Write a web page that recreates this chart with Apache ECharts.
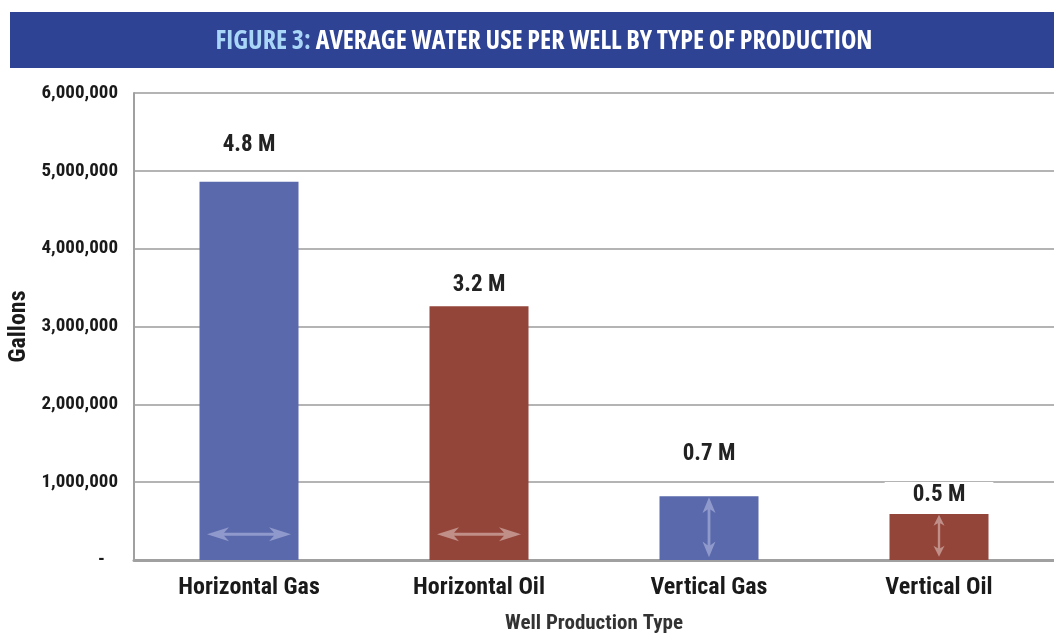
<!DOCTYPE html>
<html>
<head>
<meta charset="utf-8">
<script src="https://cdn.jsdelivr.net/npm/echarts@6/dist/echarts.min.js"></script>
<style>
  body { margin: 0; background: #fff; }
  #chart { width: 1054px; height: 635px; }
</style>
</head>
<body>
<div id="chart"></div>
<script>
// data
const categories = ['Horizontal Gas', 'Horizontal Oil', 'Vertical Gas', 'Vertical Oil'];
const gallons = [4860000, 3260000, 820000, 590000];
const valueLabels = ['4.8 M', '3.2 M', '0.7 M', '0.5 M'];
const yTicks = [0, 1000000, 2000000, 3000000, 4000000, 5000000, 6000000];
// arrows drawn inside the bars (value where the arrow sits)
const arrowValues = [330000, 330000, 420000, 310000];
const arrowVertical = [false, false, true, true];

const FONT = "'Roboto Condensed', 'Open Sans', sans-serif";
const blue = '#5a69ab', red = '#94453a';
const barColors = [blue, red, blue, red];
const arrowColors = ['#9ca5d3', '#cba19b', '#9ca5d3', '#cba19b'];
const labelGap = [25, 10, 30, 5];
const arrowSize = [[84, 14], [84, 14], [60, 13], [42, 11]];

const arrowPath = 'path://M0,7 L22,0 L17,5.5 L67,5.5 L62,0 L84,7 L62,14 L67,8.5 L17,8.5 L22,14 Z';

let chart = echarts.init(document.getElementById('chart'));

let barData = gallons.map((v, i) => {
  let label = {
    show: true,
    position: 'top',
    distance: labelGap[i],
    formatter: valueLabels[i]
  };
  if (i == 3) {
    // white box hides the gridline behind this label
    label.backgroundColor = '#fff';
    label.padding = [2, 28, 2, 28];
  }
  return { value: v, itemStyle: { color: barColors[i] }, label: label };
});

let arrowData = arrowValues.map((v, i) => ({
  value: [categories[i], v],
  symbolSize: arrowSize[i],
  symbolRotate: arrowVertical[i] ? 90 : 0,
  itemStyle: { color: arrowColors[i] }
}));

let titleStyle = { fontFamily: "'Open Sans', sans-serif", fontStyle: 'condensed', fontWeight: 'bold', fontSize: 26 };

let option = {
  animation: false,
  title: {
    text: '{a|FIGURE 3:} {b|AVERAGE WATER USE PER WELL BY TYPE OF PRODUCTION}',
    left: 539,
    top: 37,
    textAlign: 'center',
    textVerticalAlign: 'middle',
    textStyle: {
      rich: {
        a: Object.assign({ color: '#a9d6f7' }, titleStyle),
        b: Object.assign({ color: '#fff' }, titleStyle)
      }
    }
  },
  graphic: [{
    type: 'rect',
    z: -1,
    shape: { x: 10, y: 12, width: 1044, height: 56 },
    style: { fill: '#2e4394' }
  }],
  grid: { left: 134, right: 0, top: 93, bottom: 75, outerBoundsMode: 'none' },
  xAxis: {
    type: 'category',
    data: categories,
    name: 'Well Production Type',
    nameLocation: 'middle',
    nameGap: 53,
    nameTextStyle: { fontFamily: FONT, fontWeight: 'bold', fontSize: 21, color: '#333' },
    axisLine: { lineStyle: { color: '#a0a0a0', width: 3 } },
    axisTick: { show: false },
    axisLabel: { fontFamily: FONT, fontWeight: 'bold', fontSize: 24, color: '#1a1a1a', margin: 16 }
  },
  yAxis: {
    type: 'value',
    min: yTicks[0],
    max: yTicks[yTicks.length - 1],
    interval: yTicks[1] - yTicks[0],
    name: 'Gallons',
    nameLocation: 'middle',
    nameGap: 99,
    nameRotate: 90,
    nameTextStyle: { fontFamily: FONT, fontWeight: 'bold', fontSize: 24, color: '#1a1a1a' },
    axisLine: { show: true, lineStyle: { color: '#a0a0a0', width: 2 } },
    axisTick: { show: false },
    axisLabel: {
      fontFamily: FONT, fontWeight: 'bold', fontSize: 19, color: '#1a1a1a', margin: 16,
      formatter: v => v == 0 ? '-   ' : v.toLocaleString('en-US')
    },
    splitLine: { lineStyle: { color: '#b4b4b4', width: 2 } }
  },
  series: [
    {
      type: 'bar',
      barWidth: 99,
      data: barData,
      label: {
        fontFamily: FONT, fontWeight: 'bold', fontSize: 23, color: '#222'
      }
    },
    {
      type: 'scatter',
      symbol: arrowPath,
      z: 5,
      silent: true,
      data: arrowData
    }
  ]
};
chart.setOption(option);
</script>
</body>
</html>
